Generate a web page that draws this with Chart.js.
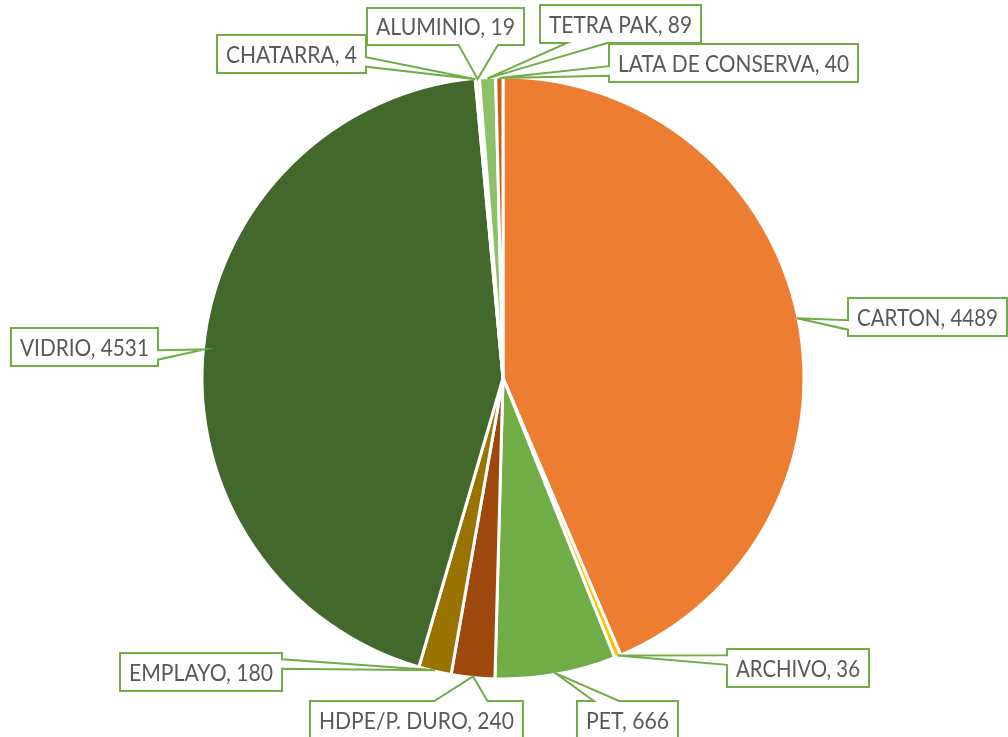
<!DOCTYPE html>
<html>
<head>
<meta charset="utf-8">
<script src="https://cdn.jsdelivr.net/npm/chart.js@4.4.1/dist/chart.umd.min.js"></script>
<style>
  html, body { margin: 0; padding: 0; background: #fff; }
  #wrap { width: 1008px; height: 737px; }
</style>
</head>
<body>
<div id="wrap"><canvas id="pie" width="1008" height="737"></canvas></div>
<script>
// data
const categories = ['CARTON', 'ARCHIVO', 'PET', 'HDPE/P. DURO', 'EMPLAYO', 'VIDRIO', 'CHATARRA', 'ALUMINIO', 'TETRA PAK', 'LATA DE CONSERVA']
const values = [4489, 36, 666, 240, 180, 4531, 4, 19, 89, 40]
const colors = ['#ED7D31', '#FFC000', '#70AD47', '#9E480E', '#997300', '#43682B', '#F1975A', '#FFCD33', '#8CC168', '#C95F1C']

// callout boxes (left, top, width, height), same order as categories
const boxes = [
  [848, 298, 159, 38],
  [727, 649, 142, 38],
  [577, 701, 101, 38],
  [310, 701, 213, 38],
  [120, 653, 162, 38],
  [11, 328, 147, 38],
  [217, 35, 149, 38],
  [367, 8, 157, 37],
  [540, 5, 161, 38],
  [609, 44, 249, 38]
]

const labelColor = '#595959'
const calloutLine = '#70AD47'

// Excel style wedge callout: rectangle plus a wedge pointing at the slice
function calloutPath(ctx, l, t, w, h, tx, ty) {
  const r = l + w, b = t + h
  const dx = tx - (l + w / 2), dy = ty - (t + h / 2)
  const dz = Math.abs(dy) - Math.abs(dx * h / w)
  const x1 = l + w * (dx > 0 ? 7 : 2) / 12, x2 = l + w * (dx > 0 ? 10 : 5) / 12
  const y1 = t + h * (dy > 0 ? 7 : 2) / 12, y2 = t + h * (dy > 0 ? 10 : 5) / 12
  ctx.beginPath()
  ctx.moveTo(l, t)
  if (dz > 0 && dy < 0) { ctx.lineTo(x1, t); ctx.lineTo(tx, ty); ctx.lineTo(x2, t) }
  ctx.lineTo(r, t)
  if (dz <= 0 && dx > 0) { ctx.lineTo(r, y1); ctx.lineTo(tx, ty); ctx.lineTo(r, y2) }
  ctx.lineTo(r, b)
  if (dz > 0 && dy > 0) { ctx.lineTo(x2, b); ctx.lineTo(tx, ty); ctx.lineTo(x1, b) }
  ctx.lineTo(l, b)
  if (dz <= 0 && dx < 0) { ctx.lineTo(l, y2); ctx.lineTo(tx, ty); ctx.lineTo(l, y1) }
  ctx.closePath()
}

const callouts = {
  id: 'callouts',
  afterDatasetsDraw(chart) {
    const ctx = chart.ctx
    const arcs = chart.getDatasetMeta(0).data
    ctx.save()
    arcs.forEach((arc, i) => {
      const p = arc.getProps(['x', 'y', 'startAngle', 'endAngle', 'outerRadius'], true)
      const mid = (p.startAngle + p.endAngle) / 2
      const tx = p.x + Math.cos(mid) * (p.outerRadius - 1)
      const ty = p.y + Math.sin(mid) * (p.outerRadius - 1)
      const [l, t, w, h] = boxes[i]

      calloutPath(ctx, l, t, w, h, tx, ty)
      ctx.fillStyle = '#fff'
      ctx.fill()
      ctx.lineWidth = 2
      ctx.strokeStyle = calloutLine
      ctx.lineJoin = 'miter'
      ctx.stroke()

      const text = `${categories[i]}, ${values[i]}`
      ctx.font = '24px Lato'
      ctx.fillStyle = labelColor
      ctx.textAlign = 'left'
      ctx.textBaseline = 'alphabetic'
      const m = ctx.measureText(text)
      const asc = ctx.measureText('H').actualBoundingBoxAscent
      const sx = (w - 18) / m.width
      ctx.save()
      ctx.translate(l + 9, t + h / 2 + asc / 2)
      ctx.scale(sx, 1)
      ctx.fillText(text, 0, 0)
      ctx.restore()
    })
    ctx.restore()
  }
}

const chart = new Chart(document.getElementById('pie'), {
  type: 'pie',
  data: {
    labels: categories,
    datasets: [{
      data: values,
      backgroundColor: colors,
      borderColor: '#fff',
      borderWidth: 3
    }]
  },
  options: {
    responsive: false,
    animation: false,
    radius: 301,
    layout: { padding: { top: 19, bottom: 0, left: 0, right: 2 } },
    plugins: {
      legend: { display: false },
      tooltip: { enabled: false }
    }
  },
  plugins: [callouts]
})
</script>
</body>
</html>
